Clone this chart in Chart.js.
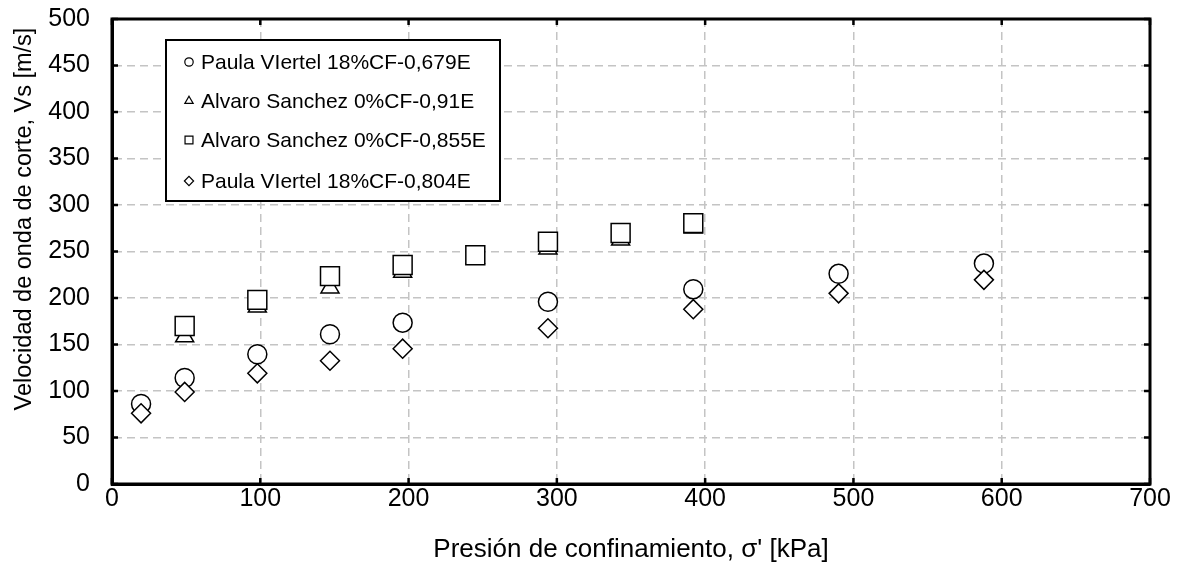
<!DOCTYPE html>
<html>
<head>
<meta charset="utf-8">
<script src="https://cdn.jsdelivr.net/npm/chart.js@4.4.1/dist/chart.umd.min.js"></script>
<style>
  html, body { margin: 0; padding: 0; background: #fff; }
  #wrap { width: 1181px; height: 568px; position: relative; }
</style>
</head>
<body>
<div id="wrap"><canvas id="c" width="1181" height="568"></canvas></div>
<script>
// ---- Data ----
const seriesLabels = [
  'Paula VIertel 18%CF-0,679E',
  'Alvaro Sanchez 0%CF-0,91E',
  'Alvaro Sanchez 0%CF-0,855E',
  'Paula VIertel 18%CF-0,804E'
];
const xPV679 = [19.6, 49, 98, 147, 196, 294, 392, 490, 588];
const vsPV679 = [86, 114, 139.5, 161, 173.5, 196, 209.5, 226, 237];
const xAS091 = [49, 98, 147, 196, 245, 294, 343, 392];
const vsAS091 = [158.5, 190.5, 211, 228, 243, 253, 262.5, 275.5];
const xAS0855 = [49, 98, 147, 196, 245, 294, 343, 392];
const vsAS0855 = [170, 198, 223.5, 235.5, 246, 260.5, 270, 280.5];
const xPV804 = [19.6, 49, 98, 147, 196, 294, 392, 490, 588];
const vsPV804 = [76, 99, 119, 132.5, 145.5, 167.5, 188, 205, 219.5];
const xTicks = [0, 100, 200, 300, 400, 500, 600, 700];
const yTicks = [0, 50, 100, 150, 200, 250, 300, 350, 400, 450, 500];
const xTitle = "Presión de confinamiento, σ' [kPa]";
const yTitle = 'Velocidad de onda de corte, Vs [m/s]';

const FONT = "'Liberation Sans', Arial, sans-serif";
const pts = (xs, ys) => xs.map((x, i) => ({x: x, y: ys[i]}));

const styles = [
  {pointStyle: 'circle', radius: 9.5, order: 4, legendR: 4.2},
  {pointStyle: 'triangle', radius: 10.4, order: 3, legendR: 4.8},
  {pointStyle: 'rect', radius: 13.4, order: 2, legendR: 5.6},
  {pointStyle: 'rectRot', radius: 9.5, order: 1, legendR: 4.6}
];
const seriesData = [pts(xPV679, vsPV679), pts(xAS091, vsAS091), pts(xAS0855, vsAS0855), pts(xPV804, vsPV804)];

const datasets = seriesData.map((d, i) => ({
  label: seriesLabels[i],
  data: d,
  showLine: false,
  order: styles[i].order,
  pointStyle: styles[i].pointStyle,
  pointRadius: styles[i].radius,
  pointHoverRadius: styles[i].radius,
  pointBorderWidth: 1.5,
  pointBorderColor: '#000',
  pointBackgroundColor: '#fff'
}));

// Frame, inward ticks, legend box and y title
const framePlugin = {
  id: 'frame',
  afterDraw(chart) {
    const ctx = chart.ctx;
    const a = chart.chartArea;
    const xs = chart.scales.x, ys = chart.scales.y;
    ctx.save();
    ctx.strokeStyle = '#000';
    ctx.lineWidth = 2.5;
    const TL = 6;
    ctx.beginPath();
    xTicks.forEach(v => {
      const px = xs.getPixelForValue(v);
      ctx.moveTo(px, a.bottom); ctx.lineTo(px, a.bottom - TL);
      ctx.moveTo(px, a.top); ctx.lineTo(px, a.top + TL);
    });
    yTicks.forEach(v => {
      const py = ys.getPixelForValue(v);
      ctx.moveTo(a.left, py); ctx.lineTo(a.left + TL, py);
      ctx.moveTo(a.right, py); ctx.lineTo(a.right - TL, py);
    });
    ctx.stroke();
    ctx.lineWidth = 3;
    ctx.strokeRect(a.left, a.top, a.right - a.left, a.bottom - a.top);

    // legend
    const bx = 166, by = 40, bw = 334, bh = 161;
    ctx.fillStyle = '#fff';
    ctx.fillRect(bx, by, bw, bh);
    ctx.lineWidth = 2;
    ctx.strokeRect(bx, by, bw, bh);
    ctx.font = '21px ' + FONT;
    ctx.textBaseline = 'middle';
    ctx.textAlign = 'left';
    const rowY = [62, 101, 140, 181];
    seriesLabels.forEach((lab, i) => {
      ctx.strokeStyle = '#000';
      ctx.fillStyle = '#fff';
      ctx.lineWidth = 1.2;
      Chart.helpers.drawPoint(ctx, {pointStyle: styles[i].pointStyle, radius: styles[i].legendR, rotation: 0, borderWidth: 1.2}, 189, rowY[i]);
      ctx.fillStyle = '#000';
      ctx.fillText(lab, 201, rowY[i] + 1);
    });

    // y axis title
    ctx.font = '23.5px ' + FONT;
    ctx.fillStyle = '#000';
    ctx.textAlign = 'center';
    ctx.textBaseline = 'middle';
    ctx.translate(25, 219);
    ctx.rotate(-Math.PI / 2);
    ctx.fillText(yTitle, 0, 0);
    ctx.restore();
  }
};

new Chart(document.getElementById('c'), {
  type: 'scatter',
  data: { datasets: datasets },
  options: {
    responsive: false,
    animation: false,
    events: [],
    layout: { padding: { top: 19, right: 31, left: 0, bottom: 0 } },
    plugins: { legend: { display: false }, tooltip: { enabled: false } },
    scales: {
      x: {
        type: 'linear',
        min: 0, max: 700,
        afterBuildTicks(scale) { scale.ticks = xTicks.map(v => ({value: v})); },
        afterFit(scale) { scale.height = 84; scale.paddingLeft = 0; scale.paddingRight = 0; },
        ticks: { color: '#000', font: { family: FONT, size: 25 }, padding: 0, maxRotation: 0 },
        grid: { color: '#c4c4c4', lineWidth: 1.5, drawTicks: false },
        border: { display: true, color: '#000', width: 3, dash: [8, 5] },
        title: { display: true, text: xTitle, color: '#000', font: { family: FONT, size: 26 }, padding: { top: 0, bottom: 3 } }
      },
      y: {
        type: 'linear',
        min: 0, max: 500,
        afterBuildTicks(scale) { scale.ticks = yTicks.map(v => ({value: v})); },
        afterFit(scale) { scale.width = 112; scale.paddingTop = 0; scale.paddingBottom = 0; },
        ticks: { color: '#000', font: { family: FONT, size: 25 }, padding: 22 },
        grid: { color: '#c4c4c4', lineWidth: 1.5, drawTicks: false },
        border: { display: true, color: '#000', width: 3, dash: [8, 5] },
        title: { display: false }
      }
    }
  },
  plugins: [framePlugin]
});
</script>
</body>
</html>
